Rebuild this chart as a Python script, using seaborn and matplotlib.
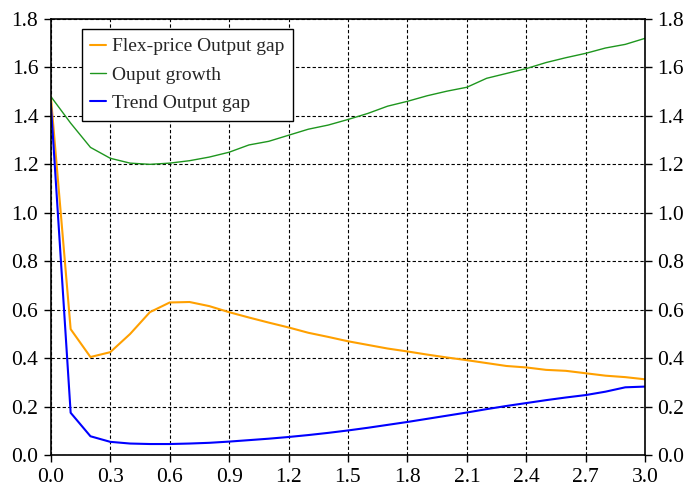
import numpy as np
import pandas as pd
import matplotlib
matplotlib.use("Agg")
import matplotlib.pyplot as plt
import seaborn as sns

# horizon (0.0 .. 3.0 step 0.1)
horizon = [round(0.1 * i, 1) for i in range(31)]

flex_gap = [1.48, 0.52, 0.405, 0.425, 0.50, 0.59, 0.63, 0.632, 0.615, 0.59,
            0.568, 0.547, 0.527, 0.505, 0.488, 0.47, 0.455, 0.44, 0.428, 0.415,
            0.403, 0.392, 0.38, 0.368, 0.362, 0.352, 0.348, 0.338, 0.328, 0.322,
            0.313]
output_growth = [1.48, 1.37, 1.27, 1.225, 1.205, 1.2, 1.205, 1.215, 1.23, 1.25,
                 1.28, 1.295, 1.32, 1.345, 1.362, 1.385, 1.41, 1.44, 1.46, 1.483,
                 1.502, 1.518, 1.555, 1.575, 1.595, 1.62, 1.64, 1.658, 1.68, 1.695,
                 1.72]
trend_gap = [1.45, 0.175, 0.078, 0.055, 0.048, 0.046, 0.046, 0.048, 0.051, 0.056,
             0.062, 0.068, 0.075, 0.083, 0.092, 0.102, 0.113, 0.125, 0.137, 0.15,
             0.163, 0.176, 0.19, 0.203, 0.215, 0.227, 0.238, 0.248, 0.262, 0.28,
             0.283]

series_names = ["Flex-price Output gap", "Ouput growth", "Trend Output gap"]
colors = ["#FFA000", "#1E961E", "#0000FF"]
widths = [1.5, 1.0, 1.5]

df = pd.DataFrame({
    "x": horizon * 3,
    "y": flex_gap + output_growth + trend_gap,
    "series": sum([[n] * len(horizon) for n in series_names], []),
})

sns.set_style("white")
plt.rcParams["font.family"] = ["Liberation Serif", "DejaVu Serif"]

fig = plt.figure(figsize=(6.87, 4.98), dpi=100)
ax = fig.add_axes([0.074, 0.086, 0.865, 0.876])

for name, c, lw in zip(series_names, colors, widths):
    sns.lineplot(data=df[df["series"] == name], x="x", y="y", color=c,
                 linewidth=lw, label=name, ax=ax)

ax.set_xlim(0, 3.0)
ax.set_ylim(0, 1.8)
xt = np.round(np.arange(0, 3.01, 0.3), 1)
yt = np.round(np.arange(0, 1.81, 0.2), 1)
ax.set_xticks(xt)
ax.set_yticks(yt)
ax.set_xticklabels([f"{v:.1f}" for v in xt])
ax.set_yticklabels([f"{v:.1f}" for v in yt])
ax.set_xlabel("")
ax.set_ylabel("")
ax.grid(True, color="black", linestyle=(0, (3, 2)), linewidth=0.8)
ax.tick_params(direction="out", length=5, width=1, labelsize=15.5, colors="black",
               bottom=True, left=True, right=True, labelright=True, pad=4)
for s in ax.spines.values():
    s.set_color("black")
    s.set_linewidth(1.2)

leg = ax.legend(loc="upper left", bbox_to_anchor=(0.052, 0.977), fontsize=14,
                frameon=True, fancybox=False, handlelength=0.8,
                handletextpad=0.3, borderpad=0.45, labelspacing=0.55,
                borderaxespad=0)
leg.get_frame().set_edgecolor("black")
leg.get_frame().set_linewidth(1.0)
leg.get_frame().set_alpha(1)

fig.savefig("out.png", dpi=100)
